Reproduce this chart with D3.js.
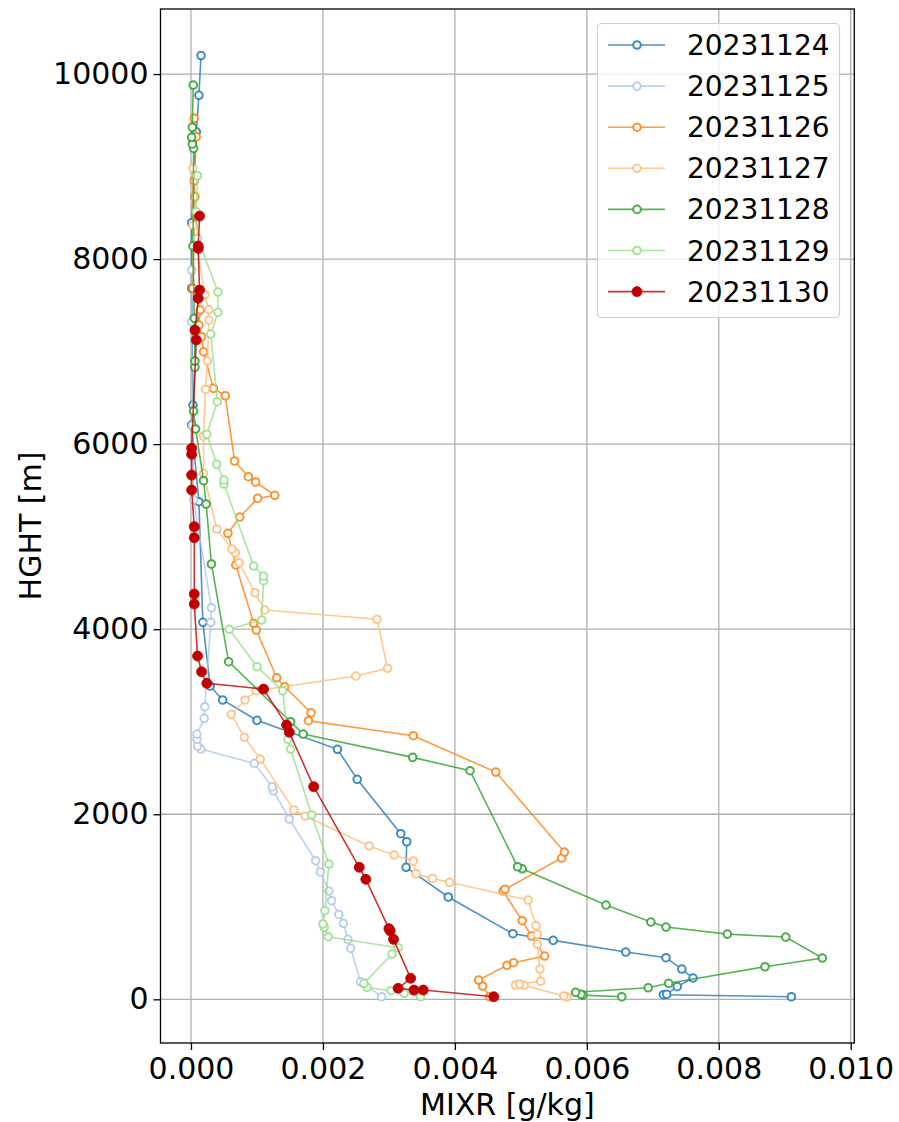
<!DOCTYPE html>
<html><head><meta charset="utf-8">
<script src="https://cdn.jsdelivr.net/npm/d3@7"></script>
<style>body{margin:0;background:#fff;} svg{display:block;font-family:"DejaVu Sans",sans-serif;}</style>
</head><body>
<svg id="c" width="899" height="1122"></svg>
<script>
const seriesNames = ["20231124","20231125","20231126","20231127","20231128","20231129","20231130"];
const seriesColors = ["#1f77b4","#aec7e8","#ff7f0e","#ffbb78","#2ca02c","#98df8a","#c00000"];
const seriesFilled = [false,false,false,false,false,false,true];

const hght_20231124 = [28,50,54,137,230,327,450,511,637,709,1106,1427,1703,1790,2378,2702,3015,3235,3386,4074,5378,6207,6423,7684,8393,9376,9770,10200];
const mixr_20231124 = [0.0091,0.00716,0.00721,0.00737,0.00761,0.00744,0.0072,0.00659,0.00549,0.00488,0.0039,0.00326,0.00327,0.00318,0.00252,0.00222,0.001,0.00048,0.00029,0.00018,0.00012,0.00001,0.00003,0.00001,0.00001,0.00008,0.00012,0.000152];

const hght_20231125 = [28,173,190,551,648,821,918,1066,1170,1376,1498,1949,2254,2298,2550,2705,2737,2810,2867,3037,3162,4074,4232,5400,6200,7323,7882];
const mixr_20231125 = [0.00289,0.00262,0.00257,0.00242,0.00238,0.00231,0.00224,0.00213,0.00209,0.00196,0.00189,0.00149,0.00125,0.00123,0.00096,0.00015,0.0001,0.00009,0.00009,0.0002,0.00021,0.0003,0.00031,0.00004,0.00002,0.00001,0.00001];

const hght_20231126 = [28,144,209,367,396,468,684,850,1170,1189,1527,1592,2456,2849,3011,3097,3378,3476,3991,4064,4694,5036,5212,5414,5447,5591,5648,5818,6523,6603,6999,7161,7287,7449,7684,8674,8847,9322,9521];
const mixr_20231126 = [0.00453,0.00442,0.00436,0.00479,0.00489,0.00536,0.00516,0.00502,0.00473,0.00476,0.00562,0.00566,0.00462,0.00337,0.00178,0.00182,0.00142,0.0013,0.00099,0.00095,0.00068,0.00056,0.00074,0.00101,0.00127,0.00098,0.00087,0.00066,0.00052,0.00034,0.00019,0.00016,0.00012,0.00014,0.00003,0.00006,0.00005,0.00008,0.00005];

const hght_20231127 = [28,36,151,155,165,194,327,598,702,796,1073,1265,1307,1357,1495,1560,1657,1981,2046,2597,2832,3080,3235,3335,3494,3577,4107,4207,4394,4719,4827,4866,5083,5685,6088,6592,6898,7341,7454,7617,8365,8981];
const mixr_20231127 = [0.0057,0.00565,0.00505,0.00492,0.00498,0.0053,0.00529,0.00525,0.00525,0.00523,0.00511,0.00392,0.00366,0.00341,0.00337,0.00308,0.0027,0.00173,0.00156,0.00105,0.00081,0.00061,0.00082,0.00099,0.0025,0.00298,0.00282,0.00112,0.00097,0.00073,0.00067,0.00062,0.00039,0.00019,0.00019,0.00022,0.00025,0.00027,0.00027,0.00021,0.00003,0.00003];

const hght_20231128 = [28,45,54,76,125,173,352,446,673,705,781,835,1019,1411,1433,2471,2615,2867,3000,3649,4705,5353,5605,6164,6358,6830,6898,7360,8141,9197,9244,9316,9424,9881];
const mixr_20231128 = [0.00653,0.00594,0.00591,0.00583,0.00693,0.00724,0.0087,0.00957,0.009015,0.00813,0.0072,0.00697,0.00629,0.00502,0.00495,0.00423,0.00336,0.0017,0.00151,0.00057,0.00031,0.00023,0.00019,0.00007,0.00004,0.00006,0.00006,0.00005,0.00003,0.00004,0.00002,0.00001,0.00002,0.000035];

const hght_20231129 = [28,65,93,130,173,490,558,677,778,814,958,1462,1992,2705,2810,3335,3595,3999,4099,4524,4575,4683,5569,5612,5782,6106,6459,7190,7425,7644,8224,8512,8901];
const mixr_20231129 = [0.00348,0.00323,0.00303,0.00267,0.00262,0.00305,0.00314,0.00208,0.00202,0.002,0.00203,0.00209,0.00183,0.00151,0.00147,0.00139,0.001,0.00058,0.00107,0.0011,0.0011,0.00095,0.0005,0.0005,0.00039,0.00024,0.0004,0.0003,0.00041,0.00041,0.0001,0.00008,0.0001];

const hght_20231130 = [28,100,100,119,227,648,740,764,1297,1427,2298,2886,2964,3353,3415,3540,3710,4272,4380,4989,5108,5504,5666,5890,5955,7126,7233,7576,7665,8116,8141,8465];
const mixr_20231130 = [0.00459,0.00352,0.00338,0.00314,0.00333,0.00307,0.00302,0.003,0.00265,0.00255,0.00186,0.00149,0.00145,0.0011,0.00024,0.00016,0.0001,0.00005,0.00005,0.00005,0.00005,0.00001,0.00001,0.00001,0.00001,0.00008,0.00006,0.00011,0.00013,0.00011,0.00011,0.00013];

const xTicks = [0,0.002,0.004,0.006,0.008,0.010];
const yTicks = [0,2000,4000,6000,8000,10000];
const xLabel = "MIXR [g/kg]";
const yLabel = "HGHT [m]";

const hghts = [hght_20231124,hght_20231125,hght_20231126,hght_20231127,hght_20231128,hght_20231129,hght_20231130];
const mixrs = [mixr_20231124,mixr_20231125,mixr_20231126,mixr_20231127,mixr_20231128,mixr_20231129,mixr_20231130];

const series = seriesNames.map((name,i)=>({name, color:seriesColors[i], filled:seriesFilled[i],
  pts: hghts[i].map((h,j)=>({h, m:mixrs[i][j]}))}));

const L=160.5, R=854.3, T=9, B=1043;
const x = d3.scaleLinear().domain([-0.000462, 0.010054]).range([L,R]);
const y = d3.scaleLinear().domain([-472, 10703]).range([B,T]);

const svg = d3.select("#c");
const FS = 30;

// grid
const grid = svg.append("g");
grid.selectAll("line.gx").data(xTicks).join("line")
  .attr("x1",d=>x(d)).attr("x2",d=>x(d)).attr("y1",T).attr("y2",B)
  .attr("stroke","#b0b0b0").attr("stroke-width",1.3);
grid.selectAll("line.gy").data(yTicks).join("line")
  .attr("y1",d=>y(d)).attr("y2",d=>y(d)).attr("x1",L).attr("x2",R)
  .attr("stroke","#b0b0b0").attr("stroke-width",1.3);

// series
const line = d3.line().x(d=>x(d.m)).y(d=>y(d.h));
const plot = svg.append("g");
function marker(sel, s){
  sel.attr("r", s.filled?5:3.8)
    .attr("fill", s.filled? s.color : "#fff")
    .attr("stroke", s.color).attr("stroke-width", s.filled?0.8:2)
    .attr("stroke-opacity", s.filled?1:0.85);
}
series.forEach(s=>{
  const g = plot.append("g");
  g.append("path").datum(s.pts).attr("d",line).attr("fill","none")
    .attr("stroke",s.color).attr("stroke-width",1.6).attr("stroke-opacity",0.8);
  g.selectAll("circle").data(s.pts).join("circle")
    .attr("cx",d=>x(d.m)).attr("cy",d=>y(d.h)).call(marker, s);
});

// axes
const xAxis = d3.axisBottom(x).tickValues(xTicks).tickFormat(d3.format(".3f")).tickSize(7).tickPadding(8);
const yAxis = d3.axisLeft(y).tickValues(yTicks).tickFormat(d=>String(d)).tickSize(7).tickPadding(5);
const gx = svg.append("g").attr("transform",`translate(0,${B})`).call(xAxis);
const gy = svg.append("g").attr("transform",`translate(${L},0)`).call(yAxis);
[gx,gy].forEach(g=>{
  g.select(".domain").remove();
  g.selectAll(".tick line").attr("stroke","#000").attr("stroke-width",1.3);
  g.selectAll(".tick text").attr("font-size",FS).attr("fill","#000").attr("font-family","DejaVu Sans");
});

// spines
svg.append("rect").attr("x",L).attr("y",T).attr("width",R-L).attr("height",B-T)
  .attr("fill","none").attr("stroke","#000").attr("stroke-width",1.3);

// axis labels
svg.append("text").attr("x",(L+R)/2).attr("y",1115).attr("text-anchor","middle")
  .attr("font-size",FS).text(xLabel);
svg.append("text").attr("transform",`translate(41,${(T+B)/2}) rotate(-90)`).attr("text-anchor","middle")
  .attr("font-size",FS).text(yLabel);

// legend
const lg = svg.append("g");
lg.append("rect").attr("x",597.5).attr("y",23.5).attr("width",242).attr("height",294).attr("rx",4)
  .attr("fill","#fff").attr("fill-opacity",0.8).attr("stroke","#d0d0d0").attr("stroke-width",1.2);
series.forEach((s,i)=>{
  const yy = 45 + i*41.1;
  lg.append("line").attr("x1",608).attr("x2",665).attr("y1",yy).attr("y2",yy)
    .attr("stroke",s.color).attr("stroke-width",1.6).attr("stroke-opacity",0.8);
  lg.append("circle").attr("cx",637).attr("cy",yy).call(marker, s);
  lg.append("text").attr("x",687).attr("y",yy).attr("dy","0.36em").attr("font-size",28)
    .attr("fill","#000").text(s.name);
});
</script>
</body></html>
